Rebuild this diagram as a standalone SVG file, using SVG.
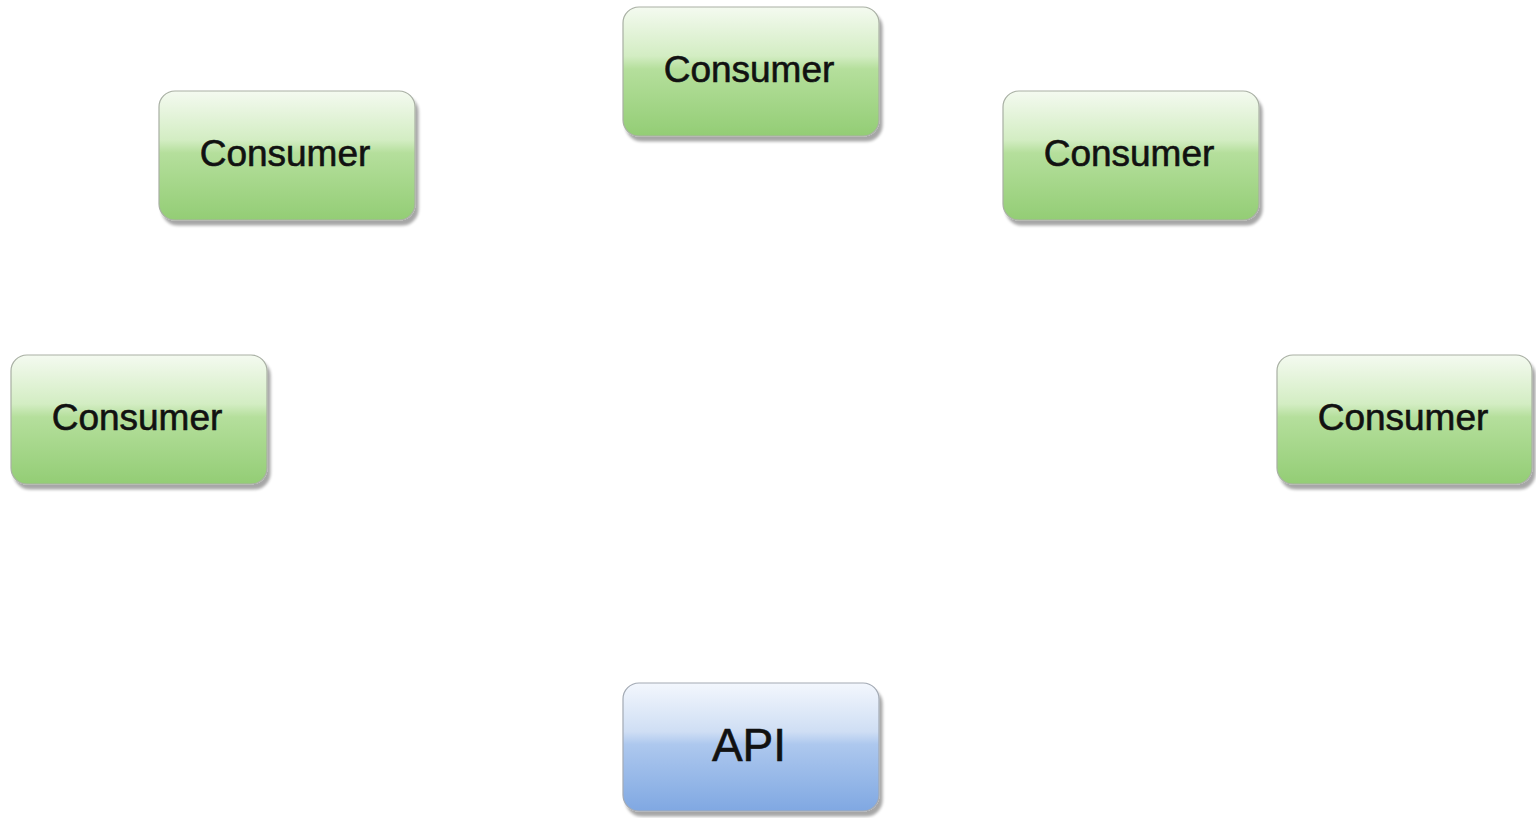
<svg xmlns="http://www.w3.org/2000/svg" width="1536" height="818" viewBox="0 0 1536 818">
  <defs>
    <linearGradient id="gGreen" x1="0" y1="0" x2="0" y2="1">
      <stop offset="0" stop-color="#f4faf0"/>
      <stop offset="0.38" stop-color="#d3edc3"/>
      <stop offset="0.48" stop-color="#b5df9c"/>
      <stop offset="1" stop-color="#93cd75"/>
    </linearGradient>
    <linearGradient id="gBlue" x1="0" y1="0" x2="0" y2="1">
      <stop offset="0" stop-color="#f3f7fd"/>
      <stop offset="0.38" stop-color="#cfdef4"/>
      <stop offset="0.48" stop-color="#adc8ee"/>
      <stop offset="1" stop-color="#80a8e2"/>
    </linearGradient>
    <filter id="shadow" x="-10%" y="-10%" width="125%" height="130%">
      <feGaussianBlur in="SourceAlpha" stdDeviation="1.5"/>
      <feOffset dx="3" dy="5" result="o"/>
      <feComponentTransfer><feFuncA type="linear" slope="0.35"/></feComponentTransfer>
      <feMerge><feMergeNode/><feMergeNode in="SourceGraphic"/></feMerge>
    </filter>
  </defs>
  <style>
    .box { stroke: #a9b0a4; stroke-width: 1.2; filter: url(#shadow); }
    .green { fill: url(#gGreen); }
    .blue { fill: url(#gBlue); stroke: #a3aab4; }
    .lbl { font-family: "Liberation Sans", Arial, sans-serif; font-size: 37px; fill: #111; stroke: #111; stroke-width: 0.6; text-anchor: middle; }
    .api { font-size: 46px; }
  </style>
  <rect width="1536" height="818" fill="#ffffff"/>
  <g id="connectors"></g>
  <g id="consumer-top">
    <rect class="box green" x="623" y="7" width="256" height="129" rx="16"/>
    <text class="lbl" x="749" y="82">Consumer</text>
  </g>
  <g id="consumer-upper-left">
    <rect class="box green" x="159" y="91" width="256" height="129" rx="16"/>
    <text class="lbl" x="285" y="166">Consumer</text>
  </g>
  <g id="consumer-upper-right">
    <rect class="box green" x="1003" y="91" width="256" height="129" rx="16"/>
    <text class="lbl" x="1129" y="166">Consumer</text>
  </g>
  <g id="consumer-left">
    <rect class="box green" x="11" y="355" width="256" height="129" rx="16"/>
    <text class="lbl" x="137" y="430">Consumer</text>
  </g>
  <g id="consumer-right">
    <rect class="box green" x="1277" y="355" width="255" height="129" rx="16"/>
    <text class="lbl" x="1403" y="430">Consumer</text>
  </g>
  <g id="api">
    <rect class="box blue" x="623" y="683" width="256" height="128" rx="16"/>
    <text class="lbl api" x="749" y="761">API</text>
  </g>
</svg>
